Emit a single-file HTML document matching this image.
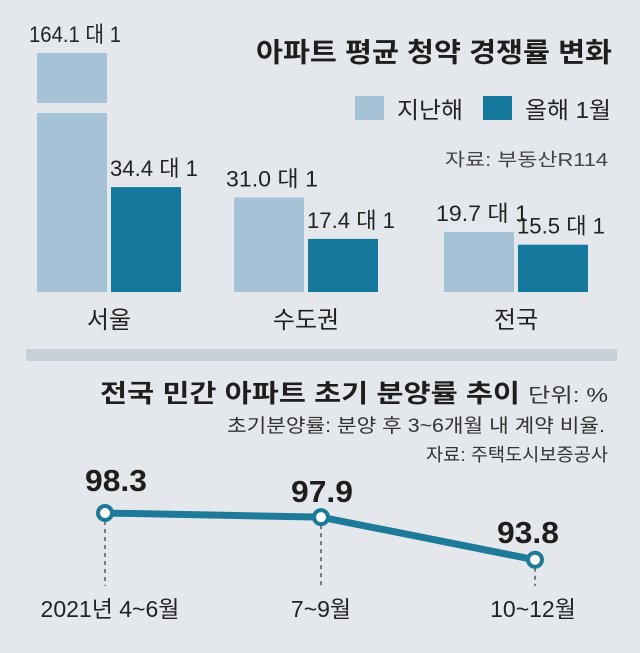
<!DOCTYPE html>
<html><head><meta charset="utf-8">
<style>
html,body{margin:0;padding:0;background:#e4e8ed;}
svg{display:block;font-family:"Liberation Sans","Noto Sans CJK KR",sans-serif;}
</style></head>
<body>
<svg id="chart" width="640" height="653" viewBox="0 0 640 653" xmlns="http://www.w3.org/2000/svg">
<rect x="0" y="0" width="640" height="653" fill="#e4e8ed"/>
<text x="612" y="62" text-anchor="end" font-size="27" font-weight="bold" fill="#1e1e1e" textLength="356" lengthAdjust="spacingAndGlyphs">아파트 평균 청약 경쟁률 변화</text>
<rect x="355" y="96" width="29" height="24" fill="#a5c2d7"/>
<text x="397" y="118" font-size="23" fill="#222" textLength="66" lengthAdjust="spacingAndGlyphs">지난해</text>
<rect x="483" y="96" width="29" height="24" fill="#13789c"/>
<text x="525" y="118" font-size="23" fill="#222" textLength="86" lengthAdjust="spacingAndGlyphs">올해 1월</text>
<text x="608" y="166" text-anchor="end" font-size="18" fill="#444" textLength="163" lengthAdjust="spacingAndGlyphs">자료: 부동산R114</text>
<g id="bars"></g>
<rect x="26" y="349" width="591" height="12" fill="#c8d0da"/>
<text x="100" y="402" font-size="25" font-weight="bold" fill="#1e1e1e" textLength="420" lengthAdjust="spacingAndGlyphs">전국 민간 아파트 초기 분양률 추이</text>
<text x="608" y="402" text-anchor="end" font-size="20" fill="#333" textLength="80" lengthAdjust="spacingAndGlyphs">단위: %</text>
<text x="605" y="432" text-anchor="end" font-size="19" fill="#333" textLength="378" lengthAdjust="spacingAndGlyphs">초기분양률: 분양 후 3~6개월 내 계약 비율.</text>
<text x="608" y="461" text-anchor="end" font-size="18" fill="#333" textLength="182" lengthAdjust="spacingAndGlyphs">자료: 주택도시보증공사</text>
<g id="line"></g>
</svg>
<script>
const NS="http://www.w3.org/2000/svg";
const barCategories=["서울","수도권","전국"];
const lastYear=[164.1,31.0,19.7];
const thisYear=[34.4,17.4,15.5];
const lineCategories=["2021년 4~6월","7~9월","10~12월"];
const lineValues=[98.3,97.9,93.8];

function mk(tag,attrs,parent){const e=document.createElementNS(NS,tag);for(const k in attrs)e.setAttribute(k,attrs[k]);parent.appendChild(e);return e;}

// bar chart
const baseY=292, pxPerUnit=3.05, capTop=53, breakTop=103, breakBottom=113;
const groupX=[37,234,444];
const barW=70, gap=4;
function yBar(v){return Math.max(baseY-v*pxPerUnit,capTop);}
const bars=document.getElementById('bars');
barCategories.forEach((c,i)=>{
  const x0=groupX[i], x1=x0+barW+gap;
  const yl=yBar(lastYear[i]);
  const broken=baseY-lastYear[i]*pxPerUnit<capTop;
  if(broken){
    const r1=mk('rect',{x:x0,y:yl,width:barW,height:breakTop-yl,fill:'#a5c2d7'},bars);
    
    
    const r2=mk('rect',{x:x0,y:breakBottom,width:barW,height:baseY-breakBottom,fill:'#a5c2d7'},bars);
    
    
  } else {
    const r=mk('rect',{x:x0,y:yl,width:barW,height:baseY-yl,fill:'#a5c2d7'},bars);
    
    
  }
  const yd=yBar(thisYear[i]);
  const d=mk('rect',{x:x1,y:yd,width:barW,height:baseY-yd,fill:'#13789c'},bars);
  
  
  const t1=mk('text',{x:x0+barW/2+3,y:yl-11,'text-anchor':'middle','font-size':'22',fill:'#222',textLength:'92',lengthAdjust:'spacingAndGlyphs'},bars);
  t1.textContent=lastYear[i].toFixed(1)+' 대 1';
  
  
  const t2=mk('text',{x:x1+barW/2+8,y:yd-11,'text-anchor':'middle','font-size':'22',fill:'#222',textLength:'88',lengthAdjust:'spacingAndGlyphs'},bars);
  t2.textContent=thisYear[i].toFixed(1)+' 대 1';
  
  
  const cl=mk('text',{x:x0+barW+gap/2,y:328,'text-anchor':'middle','font-size':'24',fill:'#222'},bars);
  cl.textContent=c;
  
  
});

// line chart
const lineX=[105,321,535];
const y0=513, pxPerPct=10.4, refV=98.3;
function yLine(v){return y0+(refV-v)*pxPerPct;}
const lg=document.getElementById('line');
lineValues.forEach((v,i)=>{
  const dl=mk('line',{x1:lineX[i],y1:yLine(v),x2:lineX[i],y2:586,stroke:'#333','stroke-width':'1.2','stroke-dasharray':'4,4'},lg);
  
  
});
const pts=lineValues.map((v,i)=>lineX[i]+','+yLine(v)).join(' ');
const pl=mk('polyline',{points:pts,fill:'none',stroke:'#1e7a99','stroke-width':'7','stroke-linejoin':'round'},lg);


const labelDx=[11,1,-7];
const labelDy=[-22,-15,-17];
lineValues.forEach((v,i)=>{
  const c=mk('circle',{cx:lineX[i],cy:yLine(v),r:'7',fill:'#fff',stroke:'#1e7a99','stroke-width':'4'},lg);
  
  
  const t=mk('text',{x:lineX[i]+labelDx[i],y:yLine(v)+labelDy[i],'text-anchor':'middle','font-size':'31',
    'font-weight':'bold',fill:'#1e1e1e',textLength:'62',lengthAdjust:'spacingAndGlyphs'},lg);
  t.textContent=v.toFixed(1);
  
  
  const xl=mk('text',{x:lineX[i]+(i==0?5:(i==2?-2:0)),y:617,'text-anchor':'middle','font-size':'23',fill:'#222'},lg);
  xl.textContent=lineCategories[i];
  
  
});
</script>
</body></html>
